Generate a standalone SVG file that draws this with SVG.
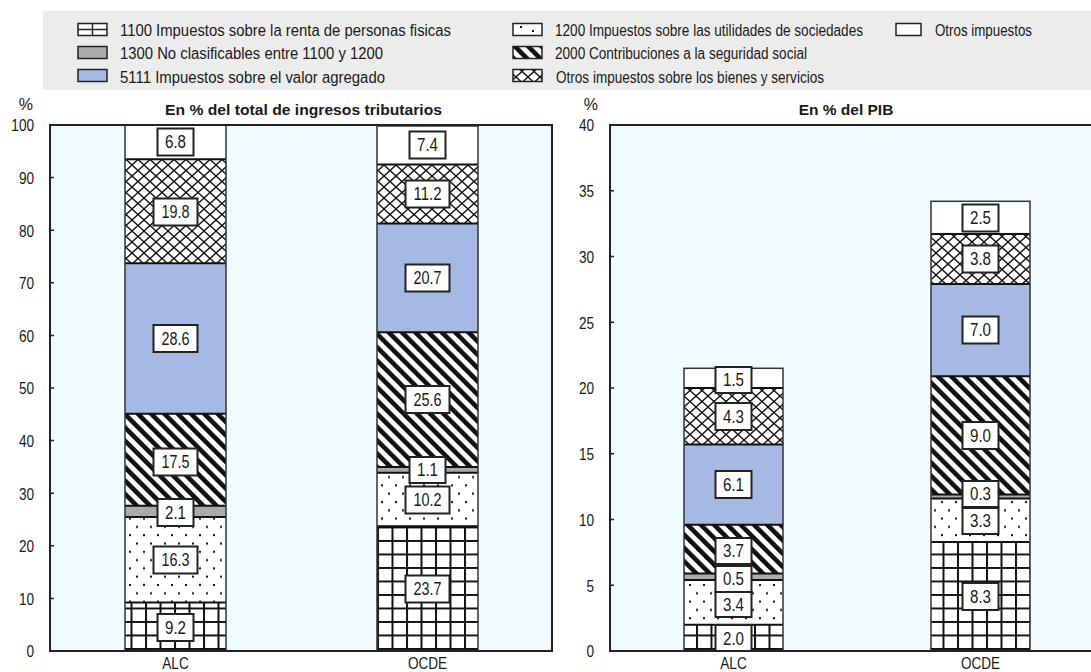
<svg xmlns="http://www.w3.org/2000/svg" width="1091" height="672" viewBox="0 0 1091 672">
<style>
.t{font-family:"Liberation Sans",Arial,sans-serif;fill:#1a1a1a}
.leg{font-size:16px}
.ax{font-size:16px}
.ttl{font-size:15.5px;font-weight:bold}
.num{font-family:"Liberation Sans",Arial,sans-serif;font-size:17.5px;fill:#1a1a1a;text-anchor:middle}
.box{fill:#fff;stroke:#222;stroke-width:2}
.sw{stroke:#222;stroke-width:1.5}
.frame{fill:none;stroke:#222;stroke-width:2}
.tick{stroke:#222;stroke-width:1.5}
.bo{fill:none;stroke:#333;stroke-width:1.5}
.sep{stroke:#111;stroke-width:2}
</style>
<defs>
<pattern id="pGrid" patternUnits="userSpaceOnUse" width="14.5" height="13.5">
<rect width="14.5" height="13.5" fill="#fff"/>
<path d="M1 0V13.5M0 1H14.5" stroke="#111" stroke-width="2"/>
</pattern>
<pattern id="pDots" patternUnits="userSpaceOnUse" width="14" height="16.6">
<rect width="14" height="16.6" fill="#fff"/>
<rect x="3" y="3" width="2" height="2" fill="#111"/>
<rect x="10" y="11.3" width="2" height="2" fill="#111"/>
</pattern>
<pattern id="pHatch" patternUnits="userSpaceOnUse" width="9.4" height="9.4" patternTransform="rotate(-45)">
<rect width="9.4" height="9.4" fill="#fff"/>
<rect width="4.6" height="9.4" fill="#111"/>
</pattern>
<pattern id="pCross" patternUnits="userSpaceOnUse" width="12" height="11">
<rect width="12" height="11" fill="#fff"/>
<path d="M0 0L12 11M12 0L0 11" stroke="#111" stroke-width="1.3"/>
</pattern>
</defs>
<rect width="1091" height="672" fill="#fff"/>

<g id="legend">
<rect x="43" y="11" width="1048" height="79" fill="#ececec"/>
<rect class="sw" x="78" y="23.5" width="29" height="12" fill="#fff"/>
<path d="M92.5 23.5V35.5M78 29.5H107" stroke="#222" stroke-width="1.5"/>
<rect class="sw" x="78" y="46.5" width="29" height="12" fill="#ababab"/>
<rect class="sw" x="78" y="69.5" width="29" height="12" fill="#a6b9e4"/>
<text class="t leg" x="120" y="36" textLength="331" lengthAdjust="spacingAndGlyphs">1100 Impuestos sobre la renta de personas fisicas</text>
<text class="t leg" x="120" y="59" textLength="263" lengthAdjust="spacingAndGlyphs">1300 No clasificables entre 1100 y 1200</text>
<text class="t leg" x="120" y="82.5" textLength="265" lengthAdjust="spacingAndGlyphs">5111 Impuestos sobre el valor agregado</text>
<rect class="sw" x="513" y="23.5" width="29" height="12" fill="#fff"/>
<rect x="520" y="26" width="2" height="2" fill="#111"/><rect x="532" y="30" width="2" height="2" fill="#111"/>
<rect class="sw" x="513" y="46.5" width="29" height="12" fill="url(#pHatch)"/>
<rect class="sw" x="513" y="69.5" width="29" height="12" fill="url(#pCross)"/>
<text class="t leg" x="555" y="36" textLength="308" lengthAdjust="spacingAndGlyphs">1200 Impuestos sobre las utilidades de sociedades</text>
<text class="t leg" x="555" y="59" textLength="252" lengthAdjust="spacingAndGlyphs">2000 Contribuciones a la seguridad social</text>
<text class="t leg" x="556" y="82.5" textLength="268" lengthAdjust="spacingAndGlyphs">Otros impuestos sobre los bienes y servicios</text>
<rect class="sw" x="896" y="23.5" width="25" height="12" fill="#fff"/>
<text class="t leg" x="935" y="36" textLength="97" lengthAdjust="spacingAndGlyphs">Otros impuestos</text>
</g>

<g id="panel-left">
<rect x="50" y="125" width="502" height="526" fill="#effbff"/>
<text class="t ttl" x="165" y="115" textLength="277" lengthAdjust="spacingAndGlyphs">En % del total de ingresos tributarios</text>
<text class="t ax" x="33" y="110" text-anchor="end">%</text>
<g class="t ax" text-anchor="end" transform="translate(34,0) scale(0.85,1)">
<text x="0" y="131.5">100</text>
<text x="0" y="184.1">90</text>
<text x="0" y="236.7">80</text>
<text x="0" y="289.3">70</text>
<text x="0" y="341.9">60</text>
<text x="0" y="394.5">50</text>
<text x="0" y="447.1">40</text>
<text x="0" y="499.7">30</text>
<text x="0" y="552.3">20</text>
<text x="0" y="604.9">10</text>
<text x="0" y="657.5">0</text>
</g>
<path class="tick" d="M50 177.6h4M50 230.2h4M50 282.8h4M50 335.4h4M50 388h4M50 440.6h4M50 493.2h4M50 545.8h4M50 598.4h4"/>
<text class="t ax" transform="translate(175.5,669) scale(0.85,1)" text-anchor="middle">ALC</text>
<text class="t ax" transform="translate(427.5,669) scale(0.85,1)" text-anchor="middle">OCDE</text>
</g>

<g id="panel-right">
<rect x="610" y="125" width="481" height="526" fill="#effbff"/>
<text class="t ttl" x="846" y="115" text-anchor="middle">En % del PIB</text>
<text class="t ax" x="598" y="110" text-anchor="end">%</text>
<g class="t ax" text-anchor="end" transform="translate(594,0) scale(0.85,1)">
<text x="0" y="131.5">40</text>
<text x="0" y="197.3">35</text>
<text x="0" y="263">30</text>
<text x="0" y="328.8">25</text>
<text x="0" y="394.5">20</text>
<text x="0" y="460.3">15</text>
<text x="0" y="526">10</text>
<text x="0" y="591.8">5</text>
<text x="0" y="657.5">0</text>
</g>
<path class="tick" d="M610 190.8h4M610 256.5h4M610 322.3h4M610 388h4M610 453.8h4M610 519.5h4M610 585.3h4"/>
<text class="t ax" transform="translate(733.5,669) scale(0.85,1)" text-anchor="middle">ALC</text>
<text class="t ax" transform="translate(980.5,669) scale(0.85,1)" text-anchor="middle">OCDE</text>
</g>

<g id="bar-left-alc">
<rect x="125" y="602.6" width="101" height="48.4" fill="url(#pGrid)"/>
<rect x="125" y="516.9" width="101" height="85.7" fill="url(#pDots)"/>
<rect x="125" y="505.8" width="101" height="11.1" fill="#ababab"/>
<rect x="125" y="413.8" width="101" height="92" fill="url(#pHatch)"/>
<rect x="125" y="263.3" width="101" height="150.5" fill="#a6b9e4"/>
<rect x="125" y="159.2" width="101" height="104.1" fill="url(#pCross)"/>
<rect x="125" y="125" width="101" height="34.2" fill="#fff"/>
<path class="sep" d="M125 602.6H226M125 516.9H226M125 505.8H226M125 413.8H226M125 263.3H226M125 159.2H226"/>
<rect class="bo" x="125" y="125" width="101" height="526"/>
<rect class="box" x="157.5" y="614" width="36" height="27"/><text class="num" x="175.5" y="633.5" textLength="21" lengthAdjust="spacingAndGlyphs">9.2</text>
<rect class="box" x="153.5" y="546.5" width="44" height="27"/><text class="num" x="175.5" y="566" textLength="28" lengthAdjust="spacingAndGlyphs">16.3</text>
<rect class="box" x="157.5" y="499" width="36" height="27"/><text class="num" x="175.5" y="518.5" textLength="21" lengthAdjust="spacingAndGlyphs">2.1</text>
<rect class="box" x="153.5" y="448.5" width="44" height="27"/><text class="num" x="175.5" y="468" textLength="28" lengthAdjust="spacingAndGlyphs">17.5</text>
<rect class="box" x="153.5" y="325" width="44" height="27"/><text class="num" x="175.5" y="344.5" textLength="28" lengthAdjust="spacingAndGlyphs">28.6</text>
<rect class="box" x="153.5" y="198.5" width="44" height="27"/><text class="num" x="175.5" y="218" textLength="28" lengthAdjust="spacingAndGlyphs">19.8</text>
<rect class="box" x="157.5" y="128.5" width="36" height="27"/><text class="num" x="175.5" y="148" textLength="21" lengthAdjust="spacingAndGlyphs">6.8</text>
</g>

<g id="bar-left-ocde">
<rect x="377" y="526.3" width="101" height="124.7" fill="url(#pGrid)"/>
<rect x="377" y="472.7" width="101" height="53.6" fill="url(#pDots)"/>
<rect x="377" y="466.9" width="101" height="5.8" fill="#ababab"/>
<rect x="377" y="332.2" width="101" height="134.7" fill="url(#pHatch)"/>
<rect x="377" y="223.4" width="101" height="108.8" fill="#a6b9e4"/>
<rect x="377" y="164.5" width="101" height="58.9" fill="url(#pCross)"/>
<rect x="377" y="126" width="101" height="38.5" fill="#fff"/>
<path class="sep" d="M377 526.3H478M377 472.7H478M377 466.9H478M377 332.2H478M377 223.4H478M377 164.5H478"/>
<rect class="bo" x="377" y="126" width="101" height="525"/>
<rect class="box" x="405.5" y="575.5" width="44" height="27"/><text class="num" x="427.5" y="595" textLength="28" lengthAdjust="spacingAndGlyphs">23.7</text>
<rect class="box" x="405.5" y="486.5" width="44" height="27"/><text class="num" x="427.5" y="506" textLength="28" lengthAdjust="spacingAndGlyphs">10.2</text>
<rect class="box" x="409.5" y="457" width="36" height="26"/><text class="num" x="427.5" y="476" textLength="21" lengthAdjust="spacingAndGlyphs">1.1</text>
<rect class="box" x="405.5" y="386" width="44" height="27"/><text class="num" x="427.5" y="405.5" textLength="28" lengthAdjust="spacingAndGlyphs">25.6</text>
<rect class="box" x="405.5" y="264.5" width="44" height="27"/><text class="num" x="427.5" y="284" textLength="28" lengthAdjust="spacingAndGlyphs">20.7</text>
<rect class="box" x="405.5" y="180.5" width="44" height="27"/><text class="num" x="427.5" y="200" textLength="28" lengthAdjust="spacingAndGlyphs">11.2</text>
<rect class="box" x="409.5" y="131.5" width="36" height="27"/><text class="num" x="427.5" y="151" textLength="21" lengthAdjust="spacingAndGlyphs">7.4</text>
</g>

<g id="bar-right-alc">
<rect x="684" y="624.7" width="99" height="26.3" fill="url(#pGrid)"/>
<rect x="684" y="580" width="99" height="44.7" fill="url(#pDots)"/>
<rect x="684" y="573.4" width="99" height="6.6" fill="#ababab"/>
<rect x="684" y="524.8" width="99" height="48.6" fill="url(#pHatch)"/>
<rect x="684" y="444.5" width="99" height="80.3" fill="#a6b9e4"/>
<rect x="684" y="388" width="99" height="56.5" fill="url(#pCross)"/>
<rect x="684" y="368.3" width="99" height="19.7" fill="#fff"/>
<path class="sep" d="M684 624.7H783M684 580H783M684 573.4H783M684 524.8H783M684 444.5H783M684 388H783"/>
<rect class="bo" x="684" y="368.3" width="99" height="282.7"/>
<rect class="box" x="715.5" y="625" width="36" height="26"/><text class="num" x="733.5" y="644.5" textLength="21" lengthAdjust="spacingAndGlyphs">2.0</text>
<rect class="box" x="715.5" y="592" width="36" height="25"/><text class="num" x="733.5" y="610.5" textLength="21" lengthAdjust="spacingAndGlyphs">3.4</text>
<rect class="box" x="715.5" y="566" width="36" height="26"/><text class="num" x="733.5" y="585" textLength="21" lengthAdjust="spacingAndGlyphs">0.5</text>
<rect class="box" x="715.5" y="538" width="36" height="26"/><text class="num" x="733.5" y="557" textLength="21" lengthAdjust="spacingAndGlyphs">3.7</text>
<rect class="box" x="715.5" y="471" width="36" height="27"/><text class="num" x="733.5" y="490.5" textLength="21" lengthAdjust="spacingAndGlyphs">6.1</text>
<rect class="box" x="715.5" y="403" width="36" height="27"/><text class="num" x="733.5" y="422.5" textLength="21" lengthAdjust="spacingAndGlyphs">4.3</text>
<rect class="box" x="715.5" y="367" width="36" height="26"/><text class="num" x="733.5" y="386" textLength="21" lengthAdjust="spacingAndGlyphs">1.5</text>
</g>

<g id="bar-right-ocde">
<rect x="931" y="541.9" width="99" height="109.1" fill="url(#pGrid)"/>
<rect x="931" y="498.5" width="99" height="43.4" fill="url(#pDots)"/>
<rect x="931" y="494.5" width="99" height="4" fill="#ababab"/>
<rect x="931" y="376.2" width="99" height="118.3" fill="url(#pHatch)"/>
<rect x="931" y="284.1" width="99" height="92.1" fill="#a6b9e4"/>
<rect x="931" y="234.1" width="99" height="50" fill="url(#pCross)"/>
<rect x="931" y="201.3" width="99" height="32.8" fill="#fff"/>
<path class="sep" d="M931 541.9H1030M931 498.5H1030M931 494.5H1030M931 376.2H1030M931 284.1H1030M931 234.1H1030"/>
<rect class="bo" x="931" y="201.3" width="99" height="449.7"/>
<rect class="box" x="962.5" y="583" width="36" height="27"/><text class="num" x="980.5" y="602.5" textLength="21" lengthAdjust="spacingAndGlyphs">8.3</text>
<rect class="box" x="962.5" y="508" width="36" height="26"/><text class="num" x="980.5" y="527" textLength="21" lengthAdjust="spacingAndGlyphs">3.3</text>
<rect class="box" x="962.5" y="481" width="36" height="26"/><text class="num" x="980.5" y="500" textLength="21" lengthAdjust="spacingAndGlyphs">0.3</text>
<rect class="box" x="962.5" y="422" width="36" height="27"/><text class="num" x="980.5" y="441.5" textLength="21" lengthAdjust="spacingAndGlyphs">9.0</text>
<rect class="box" x="962.5" y="316.5" width="36" height="27"/><text class="num" x="980.5" y="336" textLength="21" lengthAdjust="spacingAndGlyphs">7.0</text>
<rect class="box" x="962.5" y="245.5" width="36" height="27"/><text class="num" x="980.5" y="265" textLength="21" lengthAdjust="spacingAndGlyphs">3.8</text>
<rect class="box" x="962.5" y="204.5" width="36" height="27"/><text class="num" x="980.5" y="224" textLength="21" lengthAdjust="spacingAndGlyphs">2.5</text>
</g>

<g id="frames">
<path class="frame" d="M50 125H552V651H50Z"/>
<path class="frame" d="M1091 125H610V651H1091"/>
</g>
</svg>
